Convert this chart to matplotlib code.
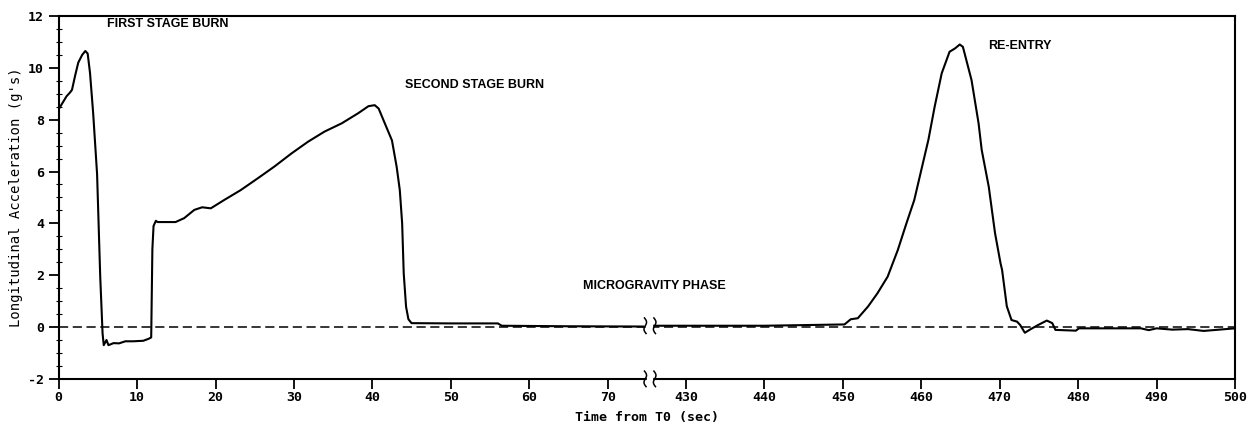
import numpy as np
import matplotlib
matplotlib.use("Agg")
import matplotlib.pyplot as plt

# launch phase (sec from T0, g's)
t_launch = [0, 0.5, 1.0, 1.45, 1.7, 2.1, 2.5, 3.0, 3.4, 3.7, 4.0, 4.4, 4.9, 5.3,
            5.6, 5.75, 6.1, 6.35, 7.0, 7.7, 8.5, 9.5, 10.8, 11.5, 11.8, 11.95,
            12.1, 12.4, 12.6, 14.9, 16.0, 17.3, 18.3, 19.4, 21.1, 23.2, 25.4,
            27.5, 29.7, 31.8, 33.9, 36.1, 38.2, 39.5, 40.3, 40.8, 41.6, 42.5,
            43.1, 43.5, 43.8, 44.0, 44.3, 44.6, 45.0, 50.0, 56.0, 56.5, 65.0, 74.5]
g_launch = [8.4, 8.65, 8.9, 9.05, 9.15, 9.7, 10.2, 10.5, 10.65, 10.55, 9.8, 8.25,
            5.9, 1.95, -0.25, -0.7, -0.5, -0.7, -0.62, -0.63, -0.55, -0.55,
            -0.53, -0.45, -0.4, 3.0, 3.9, 4.1, 4.05, 4.05, 4.2, 4.52, 4.62, 4.58,
            4.9, 5.28, 5.74, 6.19, 6.7, 7.15, 7.54, 7.86, 8.25, 8.52, 8.56, 8.43,
            7.85, 7.2, 6.18, 5.28, 4.0, 2.07, 0.78, 0.3, 0.15, 0.14, 0.14, 0.05,
            0.03, 0.02]

# re-entry phase
t_reentry = [425.7, 440, 450.2, 451.0, 451.9, 453.2, 454.4, 455.7, 457.0, 458.1,
             459.1, 460.2, 460.9, 461.7, 462.6, 463.6, 464.3, 464.9, 465.3, 466.4,
             467.3, 467.7, 468.6, 469.4, 470.1, 470.3, 470.9, 471.5, 472.2, 472.6,
             473.2, 473.9, 474.9, 476.0, 476.7, 477.1, 479.7, 480.1, 485, 488, 489,
             490, 492, 494, 496, 498, 500]
g_reentry = [0.05, 0.05, 0.1, 0.3, 0.34, 0.79, 1.3, 1.94, 2.97, 4.0, 4.9, 6.32,
             7.22, 8.5, 9.79, 10.62, 10.75, 10.9, 10.81, 9.53, 7.86, 6.83, 5.41,
             3.62, 2.46, 2.2, 0.8, 0.27, 0.21, 0.08, -0.22, -0.09, 0.08, 0.25,
             0.15, -0.11, -0.14, -0.05, -0.05, -0.05, -0.12, -0.05, -0.1, -0.08,
             -0.15, -0.1, -0.05]

x_ticks = [0, 10, 20, 30, 40, 50, 60, 70, 430, 440, 450, 460, 470, 480, 490, 500]
y_ticks = [-2, 0, 2, 4, 6, 8, 10, 12]

SHIFT = 350  # compress the 75..425 s gap


def to_plot(t):
    t = np.asarray(t, dtype=float)
    return np.where(t > 200, t - SHIFT, t)


mono = "DejaVu Sans Mono"
fig = plt.figure(figsize=(12.48, 4.37), dpi=100)
ax = fig.add_axes([0.047, 0.133, 0.9426, 0.8304])

ax.plot(to_plot(t_launch), g_launch, color="black", lw=1.5)
ax.plot(to_plot(t_reentry), g_reentry, color="black", lw=1.5)
ax.axhline(0, color="black", lw=1.1, linestyle=(0, (6, 3)))

ax.set_xlim(0, 150)
ax.set_ylim(-2, 12)
ax.set_xticks(to_plot(x_ticks))
ax.set_xticklabels([str(v) for v in x_ticks], fontfamily=mono,
                   fontweight="bold", fontsize=9.5)
ax.set_yticks(y_ticks)
ax.set_yticklabels([str(v) for v in y_ticks], fontfamily=mono,
                   fontweight="bold", fontsize=9.5)
ax.set_yticks(np.arange(-2, 12.01, 0.5), minor=True)
ax.tick_params(axis="both", which="major", direction="out", length=7, width=1.3)
ax.tick_params(axis="x", which="major", pad=1.5)
ax.tick_params(axis="y", which="minor", direction="inout", length=4, width=0.8)
for s in ax.spines.values():
    s.set_linewidth(1.5)

ax.set_xlabel("Time from T0 (sec)", fontfamily=mono, fontweight="bold",
              fontsize=9.5, labelpad=5)
ax.set_ylabel("Longitudinal Acceleration (g's)", fontfamily=mono,
              fontsize=10, labelpad=4)

# break marks on the curve and on the x axis
for y0 in (0.05, -2):
    ax.fill_between([75.0, 75.7], y0 - 0.2, y0 + 0.2, color="white", zorder=5,
                    clip_on=False)
    s = np.linspace(-1, 1, 30)
    for xc in (74.8, 76.0):
        ax.plot(xc + 0.35 * np.sin(s * np.pi) * 0.6 - 0.1 * s, y0 + 0.3 * s,
                color="black", lw=1.1, zorder=6, clip_on=False)

lab = dict(fontfamily="Liberation Sans", fontsize=9, fontweight="bold",
           ha="left", va="center", color="black")
ax.text(6.2, 11.7, "FIRST STAGE BURN", **lab)
ax.text(44.2, 9.33, "SECOND STAGE BURN", **lab)
ax.text(66.8, 1.6, "MICROGRAVITY PHASE", **lab)
ax.text(118.5, 10.84, "RE-ENTRY", **lab)

fig.savefig("out.png", dpi=100)
